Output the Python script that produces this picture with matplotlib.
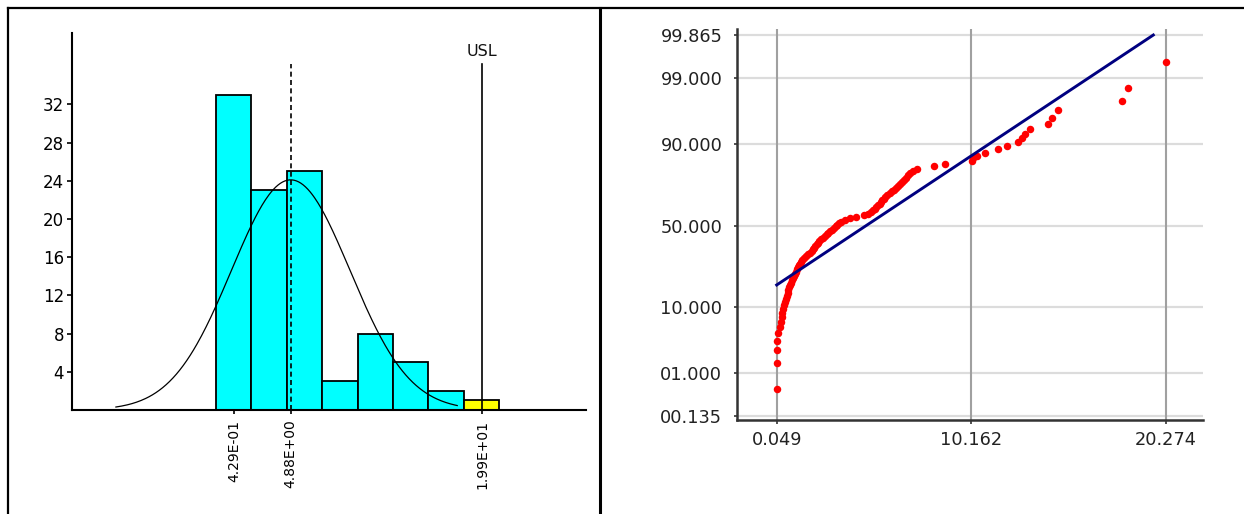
import numpy as np
import matplotlib
matplotlib.use("Agg")
import matplotlib.pyplot as plt
from matplotlib.lines import Line2D
from statistics import NormalDist

plt.rcParams['font.family'] = ['DejaVu Sans']

# ---------------- data: histogram (left) ----------------
bin_edges = [-0.983, 1.795, 4.573, 7.351, 10.129, 12.907, 15.685, 18.463, 21.241]
bin_counts = [33, 23, 25, 3, 8, 5, 2, 1]
bin_out_of_spec = [False, False, False, False, False, False, False, True]
hist_yticks = [4, 8, 12, 16, 20, 24, 28, 32]
hist_xticks = [0.429, 4.88, 19.9]
hist_xticklabels = ['4.29E-01', '4.88E+00', '1.99E+01']
mean_value = 4.88
usl_value = 19.9
fit_mean = 4.88
fit_sigma = 4.65
fit_peak = 24.1
fit_range = (-8.83, 17.94)

# ---------------- data: normal probability plot (right) ----------------
sample_values = [
    0.049, 0.052, 0.07, 0.09, 0.11, 0.20, 0.26, 0.30, 0.35, 0.40,
    0.44, 0.49, 0.54, 0.58, 0.63, 0.66, 0.70, 0.75, 0.80, 0.84,
    0.89, 0.94, 0.99, 1.04, 1.09, 1.14, 1.20, 1.26, 1.32, 1.39,
    1.47, 1.55, 1.68, 1.80, 1.86, 1.92, 1.98, 2.05, 2.12, 2.20,
    2.27, 2.36, 2.46, 2.56, 2.65, 2.74, 2.83, 2.93, 3.03, 3.12,
    3.21, 3.30, 3.42, 3.60, 3.85, 4.15, 4.60, 4.82, 4.98, 5.08,
    5.16, 5.24, 5.32, 5.40, 5.47, 5.54, 5.61, 5.69, 5.80, 5.92,
    6.03, 6.13, 6.24, 6.35, 6.46, 6.55, 6.65, 6.76, 6.87, 6.98,
    7.15, 7.37, 8.25, 8.81, 10.20, 10.28, 10.46, 10.89, 11.55, 12.02,
    12.59, 12.80, 12.97, 13.23, 14.15, 14.36, 14.67, 18.03, 18.34, 20.274,
]
sample_percent = [
    0.5, 1.5, 2.5, 3.5, 4.5, 5.5, 6.5, 7.5, 8.5, 9.5,
    10.5, 11.5, 12.5, 13.5, 14.5, 15.5, 16.5, 17.5, 18.5, 19.5,
    20.5, 21.5, 22.5, 23.5, 24.5, 25.5, 26.5, 27.5, 28.5, 29.5,
    30.5, 31.5, 32.5, 33.5, 34.5, 35.5, 36.5, 37.5, 38.5, 39.5,
    40.5, 41.5, 42.5, 43.5, 44.5, 45.5, 46.5, 47.5, 48.5, 49.5,
    50.5, 51.5, 52.5, 53.5, 54.5, 55.5, 56.5, 57.5, 58.5, 59.5,
    60.5, 61.5, 62.5, 63.5, 64.5, 65.5, 66.5, 67.5, 68.5, 69.5,
    70.5, 71.5, 72.5, 73.5, 74.5, 75.5, 76.5, 77.5, 78.5, 79.5,
    80.5, 81.5, 82.5, 83.5, 84.5, 85.5, 86.5, 87.5, 88.5, 89.5,
    90.5, 91.5, 92.5, 93.5, 94.5, 95.5, 96.5, 97.5, 98.5, 99.5,
]
fitline_x = [0.049, 19.64]
fitline_percent = [17.5, 99.865]
prob_yticks = [0.135, 1.0, 10.0, 50.0, 90.0, 99.0, 99.865]
prob_yticklabels = ['00.135', '01.000', '10.000', '50.000', '90.000', '99.000', '99.865']
prob_xticks = [0.049, 10.162, 20.274]
prob_xticklabels = ['0.049', '10.162', '20.274']

# ---------------- figure ----------------
W, H = 1244, 514
fig = plt.figure(figsize=(W / 100, H / 100), dpi=100)
fig.patch.set_facecolor('white')


def px_rect(x0, y0, x1, y1):
    return [x0 / W, (H - y1) / H, (x1 - x0) / W, (y1 - y0) / H]


# ---------- left: histogram ----------
ax1 = fig.add_axes(px_rect(72.3, 33.3, 586, 410))
edges = np.array(bin_edges)
widths = np.diff(edges)
colors = ['#FFFF00' if o else '#00FFFF' for o in bin_out_of_spec]
ax1.bar(edges[:-1], bin_counts, width=widths, align='edge', color=colors,
        edgecolor='black', linewidth=1.3, zorder=2)

xc = np.linspace(fit_range[0], fit_range[1], 300)
yc = fit_peak * np.exp(-0.5 * ((xc - fit_mean) / fit_sigma) ** 2)
ax1.plot(xc, yc, color='black', lw=0.9, zorder=4)

ymax1 = 376.7 / 9.55
line_top = (410 - 64) / 9.55
ax1.plot([mean_value, mean_value], [0, line_top], color='black', lw=1.2,
         ls=(0, (3, 2)), zorder=5)
ax1.plot([usl_value, usl_value], [0, line_top], color='black', lw=1.2, zorder=5)
ax1.text(usl_value, (410 - 52) / 9.55, 'USL', ha='center', va='center',
         fontsize=11.5, color='#111111')

ax1.set_xlim(-12.25, 28.04)
ax1.set_ylim(0, ymax1)
for s in ['top', 'right']:
    ax1.spines[s].set_visible(False)
for s in ['left', 'bottom']:
    ax1.spines[s].set_linewidth(1.5)
    ax1.spines[s].set_color('black')
ax1.set_yticks(hist_yticks)
ax1.set_yticklabels([str(v) for v in hist_yticks])
ax1.set_xticks(hist_xticks)
ax1.set_xticklabels(hist_xticklabels, rotation=90)
ax1.tick_params(axis='y', direction='out', length=3.6, width=1.2, pad=2.2,
                labelsize=12, colors='black')
ax1.tick_params(axis='x', direction='out', length=3, width=1.2, pad=4.0,
                labelsize=10, colors='black')
ax1.set_facecolor('none')

# ---------- right: normal probability plot ----------
_nd = NormalDist()
_ppf = np.vectorize(lambda p: _nd.inv_cdf(min(max(p, 1e-9), 1 - 1e-9)), otypes=[float])
_cdf = np.vectorize(lambda z: _nd.cdf(z), otypes=[float])


def fwd(p):
    return _ppf(np.asarray(p, dtype=float) / 100.0)


def inv(z):
    return _cdf(np.asarray(z, dtype=float)) * 100.0


ax2 = fig.add_axes(px_rect(737.3, 29.3, 1203.3, 420))
ax2.set_yscale('function', functions=(fwd, inv))
ax2.set_xlim(-2.0, 22.24)
ax2.set_ylim(float(inv(-3.06)), float(inv(3.09)))

for p in prob_yticks:
    ax2.axhline(p, color='#DCDCDC', lw=1.6, zorder=1)
for xv in prob_xticks:
    ax2.axvline(xv, color='#A0A0A0', lw=1.5, zorder=1)

ax2.plot(sample_values, sample_percent, 'o', color='#FF0000', ms=5.4,
         mec='none', zorder=3)
ax2.plot(fitline_x, fitline_percent, color='#000080', lw=2.1, zorder=4)

ax2.set_yticks(prob_yticks)
ax2.set_yticklabels(prob_yticklabels)
ax2.minorticks_off()
ax2.set_xticks(prob_xticks)
ax2.set_xticklabels(prob_xticklabels)
for s in ['top', 'right']:
    ax2.spines[s].set_visible(False)
for s in ['left', 'bottom']:
    ax2.spines[s].set_linewidth(1.8)
    ax2.spines[s].set_color('#333333')
ax2.tick_params(axis='y', direction='out', length=2.2, width=1.2, pad=8.6,
                labelsize=12.8, colors='#333333', labelcolor='#222222')
ax2.tick_params(axis='x', direction='out', length=3, width=1.2, pad=5.0,
                labelsize=12.8, colors='#333333', labelcolor='#222222')
ax2.set_facecolor('none')

# ---------- frame lines ----------
fig.add_artist(Line2D([8 / W, 1.0], [(H - 8) / H, (H - 8) / H], color='black',
                      lw=1.6, transform=fig.transFigure))
fig.add_artist(Line2D([8 / W, 8 / W], [0, (H - 8) / H], color='black',
                      lw=1.6, transform=fig.transFigure))
fig.add_artist(Line2D([600 / W, 600 / W], [0, (H - 8) / H], color='black',
                      lw=2.2, transform=fig.transFigure))

fig.savefig('out.png', dpi=100, facecolor='white')
